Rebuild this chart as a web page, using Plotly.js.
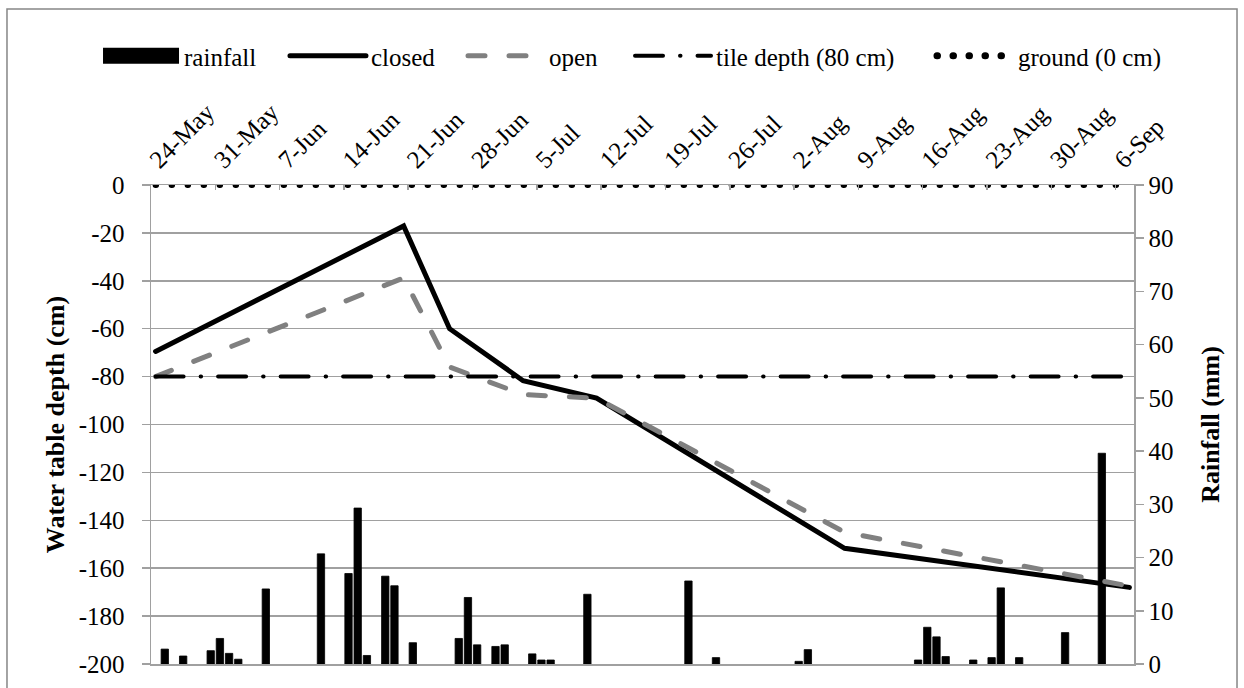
<!DOCTYPE html>
<html><head><meta charset="utf-8">
<script src="https://cdn.plot.ly/plotly-3.0.1.min.js"></script>
<style>
body{margin:0;background:#fff}
#chart{width:1244px;height:688px}
.scatterlayer .js-line{stroke-linecap:round !important}
.legend .js-line{stroke-width:16px !important; stroke-linecap:butt !important}
.legend2 .js-line, .legend3 .js-line, .legend4 .js-line{stroke-linecap:round !important}
.legend5 .js-line{stroke-width:7px !important; stroke-linecap:round !important}
</style>
</head><body><div id="chart"></div>
<script>
const YEAR = '2013';
const tickDates = ['05-24','05-31','06-07','06-14','06-21','06-28','07-05','07-12','07-19','07-26','08-02','08-09','08-16','08-23','08-30','09-06'];
const tickLabels = ['24-May','31-May','7-Jun','14-Jun','21-Jun','28-Jun','5-Jul','12-Jul','19-Jul','26-Jul','2-Aug','9-Aug','16-Aug','23-Aug','30-Aug','6-Sep'];
const depthTicks = [0,-20,-40,-60,-80,-100,-120,-140,-160,-180,-200];
const depthTickLabels = ['0','-20','-40','-60','-80','-100','-120','-140','-160','-180','-200'];

const rainDates = ['05-25','05-27','05-30','05-31','06-01','06-02','06-05','06-11','06-14','06-15','06-16','06-18','06-19','06-21',
  '06-26','06-27','06-28','06-30','07-01','07-04','07-05','07-06','07-10','07-21','07-24','08-02','08-03',
  '08-15','08-16','08-17','08-18','08-21','08-23','08-24','08-26','08-31','09-04'];
const rainfall = [2.8,1.5,2.5,4.8,2.0,0.9,14.1,20.7,17.0,29.3,1.6,16.5,14.7,4.0,
  4.8,12.5,3.6,3.3,3.6,1.9,0.75,0.75,13.1,15.6,1.2,0.5,2.7,
  0.75,6.9,5.1,1.4,0.75,1.2,14.3,1.2,5.9,39.6];

const lineDates = ['05-24','06-20','06-25','07-03','07-11','08-07','09-07'];
const closedDepth = [-69.5,-17.1,-60,-81.7,-89,-151.7,-168];
const openDepth = [-80,-38.8,-76,-87.5,-89,-145,-167.5];

const tileDates = ['05-24','09-07'];
const tileDepth = [-80,-80];
const groundDates = ['05-24','09-06'];
const groundLevel = [0,0];

const noon = d => `${YEAR}-${d} 12:00`;
const day = d => `${YEAR}-${d}`;
const DAY_MS = 86400000;

const traces = [
  {type:'bar', x: rainDates.map(noon), y: rainfall, yaxis:'y', xaxis:'x', name:'rainfall',
   width: rainDates.map(()=>0.8*DAY_MS), marker:{color:'#000', line:{color:'#000', width:0.8}}, showlegend:false},
  {type:'scatter', mode:'lines', x:[null], y:[null], yaxis:'y2', name:'rainfall', legend:'legend',
   line:{color:'#000', width:10}, showlegend:true},
  {type:'scatter', mode:'lines', x: lineDates.map(noon), y: closedDepth, yaxis:'y2', name:'closed', legend:'legend2',
   line:{color:'#000', width:5}},
  {type:'scatter', mode:'lines', x: lineDates.map(noon), y: openDepth, yaxis:'y2', name:'open', legend:'legend3',
   line:{color:'#808080', width:5, dash:'17px,24px'}},
  {type:'scatter', mode:'lines', x: tileDates.map(noon), y: tileDepth, yaxis:'y2', name:'tile depth (80 cm)', legend:'legend4',
   line:{color:'#000', width:4, dash:'28px,17px,0.5px,17px'}},
  {type:'scatter', mode:'lines', x: groundDates.map(noon), y: groundLevel, yaxis:'y2', name:'ground (0 cm)', legend:'legend5',
   line:{color:'#000', width:6, dash:'0.5px,15.5px'}}
];

const FONT = 'Liberation Serif, DejaVu Serif, serif';
const GRID = '#a0a0a0';
const LEG_Y = 1.2693;
const legendBase = {orientation:'h', xanchor:'left', y:LEG_Y, yanchor:'middle', itemwidth:76,
  bgcolor:'rgba(0,0,0,0)', font:{family:FONT, size:25}};
const layout = {
  width:1244, height:688,
  paper_bgcolor:'#fff', plot_bgcolor:'#fff',
  font:{family:FONT, size:25, color:'#000'},
  margin:{l:151, r:110, t:185, b:24},
  xaxis:{type:'date', side:'top', anchor:'y', range:[day('05-24'), day('09-08')],
    tickmode:'array', tickvals: tickDates.map(day), ticktext: tickLabels, tickangle:-45,
    tickfont:{family:FONT, size:25},
    ticks:'inside', ticklen:5, tickcolor:GRID, tickwidth:1.5,
    showline:true, mirror:true, linecolor:GRID, linewidth:1.5, showgrid:false, zeroline:false},
  yaxis:{side:'right', range:[0,90], dtick:10, tick0:0, ticks:'outside', ticklen:8, tickcolor:GRID, tickwidth:1.5,
    tickfont:{family:FONT, size:25},
    showline:true, linecolor:GRID, linewidth:1.5, showgrid:false, zeroline:false,
    title:{text:'<b>Rainfall (mm)</b>', standoff:28, font:{family:FONT, size:26}}},
  yaxis2:{overlaying:'y', side:'left', range:[-200,0], tickmode:'array', tickvals:depthTicks, ticktext:depthTickLabels,
    tickfont:{family:FONT, size:25},
    ticks:'outside', ticklen:8, tickcolor:GRID, tickwidth:1.5,
    showline:true, linecolor:GRID, linewidth:1.5, showgrid:true, gridcolor:GRID, gridwidth:1.5, zeroline:false,
    ticklabelstandoff:12,
    title:{text:'<b>Water table depth (cm)</b>', standoff:6, font:{family:FONT, size:26}}},
  legend: Object.assign({}, legendBase, {x:-0.0539}),
  legend2: Object.assign({}, legendBase, {x:0.1363}),
  legend3: Object.assign({}, legendBase, {x:0.3174}),
  legend4: Object.assign({}, legendBase, {x:0.4873}),
  legend5: Object.assign({}, legendBase, {x:0.7945}),
  shapes:[{type:'rect', xref:'paper', yref:'paper', x0:-0.1465, x1:1.1048, y0:-0.1, y1:1.3674,
    line:{color:'#868686', width:1.5}, layer:'below'}],
  showlegend:true
};

Plotly.newPlot('chart', traces, layout, {displayModeBar:false, staticPlot:true});
</script>
</body></html>
